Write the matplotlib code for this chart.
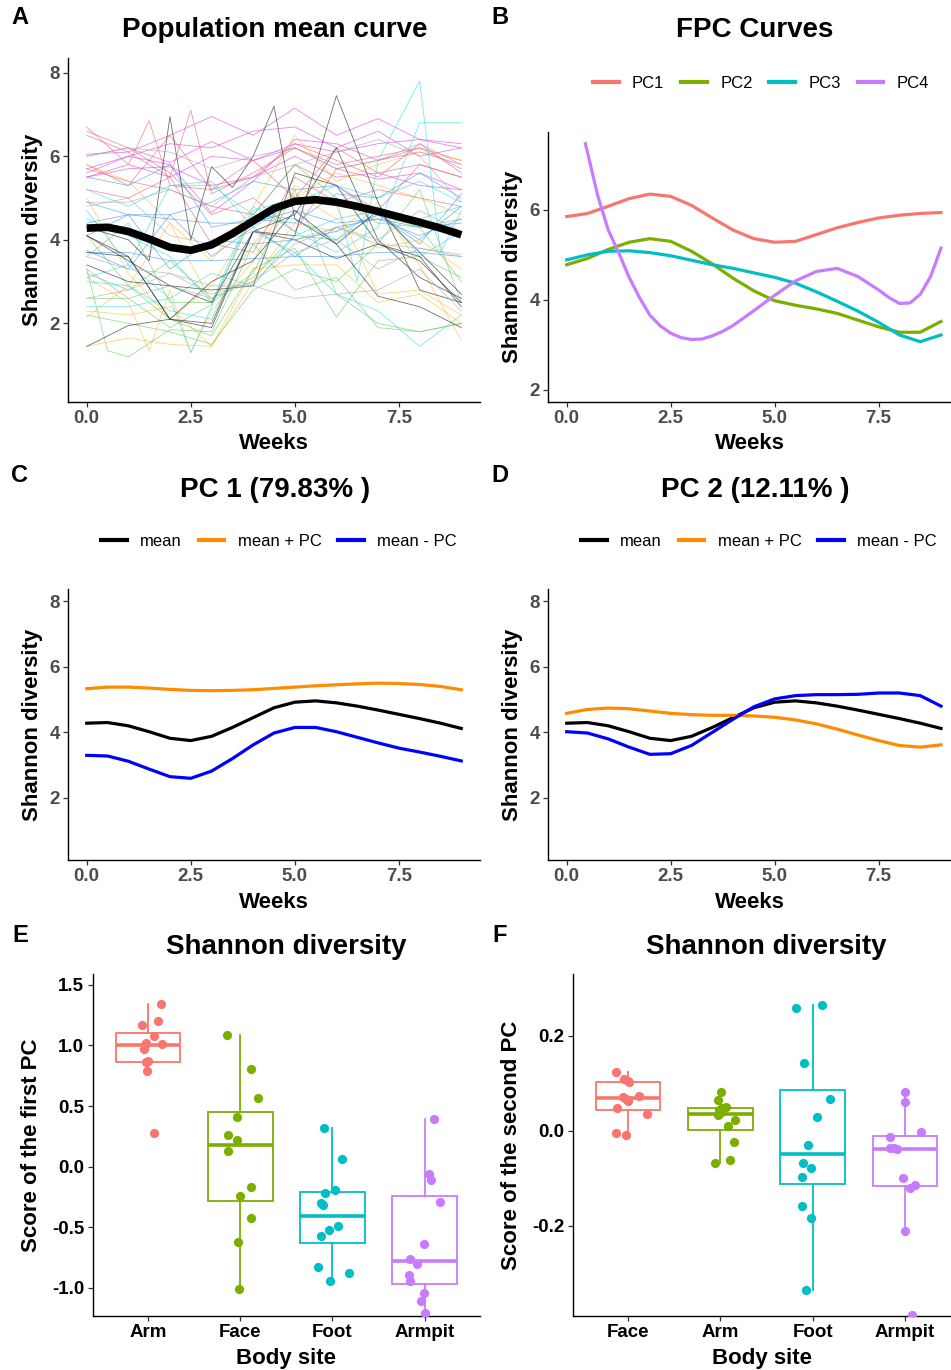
import matplotlib
matplotlib.use("Agg")
import matplotlib.pyplot as plt
from matplotlib.lines import Line2D

plt.rcParams['font.family'] = ['Liberation Sans', 'DejaVu Sans']
plt.rcParams['axes.unicode_minus'] = False
plt.rcParams['lines.solid_joinstyle'] = 'round'

W, H = 951, 1370

# ---------------- data ----------------
weeks_grid = [0.0, 0.5, 1.0, 1.5, 2.0, 2.5, 3.0, 3.5, 4.0, 4.5,
              5.0, 5.5, 6.0, 6.5, 7.0, 7.5, 8.0, 8.5, 9.0]

mean_curve = [4.28, 4.30, 4.20, 4.02, 3.82, 3.75, 3.88, 4.15, 4.45, 4.75,
              4.92, 4.96, 4.90, 4.80, 4.68, 4.55, 4.42, 4.28, 4.12]

# FPC curves (panel B)
pc1_curve = [5.85, 5.92, 6.08, 6.25, 6.35, 6.30, 6.10, 5.82, 5.55, 5.36,
             5.28, 5.30, 5.45, 5.60, 5.72, 5.82, 5.88, 5.92, 5.94]
pc2_curve = [4.78, 4.92, 5.12, 5.28, 5.36, 5.30, 5.08, 4.80, 4.48, 4.20,
             3.98, 3.88, 3.80, 3.70, 3.55, 3.40, 3.28, 3.28, 3.52]
pc3_curve = [4.89, 5.00, 5.08, 5.09, 5.05, 4.98, 4.88, 4.78, 4.70, 4.60,
             4.50, 4.37, 4.18, 3.97, 3.75, 3.50, 3.22, 3.07, 3.22]
pc4_weeks = [0.45, 0.75, 1.0, 1.25, 1.5, 1.75, 2.0, 2.25, 2.5, 2.75, 3.0, 3.25,
             3.5, 3.75, 4.0, 4.5, 5.0, 5.5, 6.0, 6.5, 7.0, 7.5, 7.75, 8.0,
             8.25, 8.5, 8.75, 9.0]
pc4_curve = [7.47, 6.30, 5.55, 5.05, 4.50, 4.05, 3.66, 3.42, 3.26, 3.16, 3.12, 3.13,
             3.20, 3.30, 3.43, 3.76, 4.10, 4.42, 4.63, 4.70, 4.52, 4.22, 4.05, 3.92,
             3.93, 4.12, 4.52, 5.15]

# mean +/- PC curves (panels C, D)
pc1_plus = [5.33, 5.38, 5.38, 5.35, 5.31, 5.28, 5.27, 5.28, 5.30, 5.34,
            5.38, 5.42, 5.45, 5.48, 5.50, 5.49, 5.46, 5.40, 5.30]
pc1_minus = [3.30, 3.28, 3.12, 2.88, 2.65, 2.60, 2.82, 3.20, 3.62, 3.98,
             4.15, 4.15, 4.02, 3.85, 3.68, 3.52, 3.40, 3.27, 3.13]
pc2_plus = [4.58, 4.70, 4.74, 4.72, 4.65, 4.58, 4.54, 4.52, 4.52, 4.50,
            4.46, 4.38, 4.26, 4.10, 3.92, 3.75, 3.60, 3.55, 3.62]
pc2_minus = [4.02, 3.98, 3.80, 3.55, 3.33, 3.35, 3.60, 4.00, 4.40, 4.78,
             5.02, 5.12, 5.15, 5.15, 5.16, 5.20, 5.20, 5.12, 4.80]

# individual subject trajectories (panel A)
wk = [0, 1, 2, 3, 4, 5, 6, 7, 8, 9]
subject_weeks = [
    wk, wk, wk, wk, wk, wk,
    [0, 1, 1.5, 2, 3, 4, 5, 6, 7, 8, 9], [0, 1, 2, 2.5, 3, 4, 5, 6, 7, 8, 9], wk, wk, wk, wk,
    wk, wk, wk, wk, wk, [0, 1, 1.5, 2, 2.5, 3, 4, 5, 6, 7, 8, 9],
    [0, 0.5, 1, 2, 3, 4, 5, 6, 7, 8, 9], wk, wk, wk, wk, wk,
    wk, wk, [0, 1, 2, 2.5, 3, 4, 5, 6, 6.5, 7, 8, 8.5, 9], wk, wk, wk,
    wk, wk, wk, wk, wk, wk,
    [0, 1, 1.5, 2, 2.5, 3, 3.5, 4, 4.5, 5, 6, 7, 8, 9], wk, wk, wk, wk, wk,
    wk, wk, wk, wk, wk, wk,
]
subject_shannon = [
    # magenta
    [6.05, 6.10, 6.50, 6.95, 6.50, 7.15, 6.50, 6.90, 6.40, 6.30],
    [5.60, 6.00, 6.30, 6.20, 6.60, 6.70, 6.20, 6.60, 6.00, 6.20],
    [5.50, 5.80, 5.50, 6.00, 5.90, 6.30, 6.10, 6.30, 6.40, 6.20],
    [5.70, 6.00, 5.80, 4.65, 5.40, 6.40, 6.30, 5.90, 6.10, 5.80],
    [5.50, 5.70, 5.75, 5.30, 5.50, 6.00, 5.50, 5.60, 5.30, 5.20],
    [6.00, 6.20, 5.85, 6.35, 5.90, 6.20, 5.70, 5.45, 5.60, 5.20],
    # red
    [6.70, 5.80, 6.85, 5.30, 5.20, 5.50, 6.30, 5.90, 5.50, 6.30, 5.60],
    [6.50, 6.10, 5.50, 7.10, 5.10, 5.60, 6.20, 5.80, 6.00, 6.20, 5.70],
    [5.80, 5.30, 6.50, 5.20, 5.90, 5.00, 6.20, 5.60, 5.80, 5.50],
    [6.60, 6.20, 5.60, 4.60, 5.00, 4.20, 5.70, 5.90, 6.20, 5.90],
    [5.70, 5.40, 5.20, 4.80, 4.60, 5.80, 5.30, 4.70, 5.80, 5.50],
    [5.20, 5.00, 5.50, 3.90, 3.70, 5.50, 4.90, 5.20, 5.00, 4.80],
    # orange
    [5.80, 5.40, 4.40, 3.50, 4.80, 6.50, 5.40, 5.80, 6.10, 5.90],
    [5.00, 3.20, 2.10, 2.90, 4.50, 5.00, 5.60, 5.30, 5.00, 4.60],
    [2.30, 2.20, 2.40, 1.45, 3.30, 3.40, 3.40, 2.50, 2.70, 2.00],
    [1.45, 1.65, 1.50, 1.45, 3.00, 4.40, 4.20, 4.90, 3.40, 1.60],
    [2.15, 2.90, 4.40, 2.50, 3.90, 5.10, 4.50, 3.80, 4.00, 3.30],
    [3.10, 2.50, 1.35, 2.80, 1.30, 2.30, 3.50, 5.30, 4.80, 2.70, 2.80, 2.20],
    # green
    [3.30, 1.35, 1.20, 1.85, 1.80, 3.90, 2.80, 3.10, 1.90, 1.80, 2.00],
    [2.60, 2.60, 1.90, 2.45, 4.60, 5.80, 5.00, 4.40, 4.30, 3.00],
    [4.10, 2.90, 2.10, 1.70, 3.30, 3.80, 2.15, 3.50, 3.60, 3.10],
    [3.60, 4.40, 2.50, 2.50, 3.20, 5.20, 2.70, 2.00, 1.80, 2.00],
    [2.20, 2.00, 1.80, 1.50, 2.80, 3.30, 3.00, 3.90, 5.20, 2.50],
    [3.20, 2.80, 3.50, 2.60, 3.10, 4.10, 4.00, 4.60, 4.30, 4.50],
    # cyan
    [5.20, 4.80, 5.30, 5.30, 4.60, 4.50, 4.00, 4.80, 3.60, 4.20],
    [3.00, 2.90, 2.30, 2.10, 4.20, 3.70, 2.70, 2.30, 1.45, 2.20],
    [4.70, 3.40, 2.60, 1.30, 2.40, 4.70, 5.00, 5.00, 3.00, 5.90, 7.80, 3.70, 4.70],
    [4.50, 4.10, 3.60, 2.50, 4.80, 4.20, 3.70, 4.30, 6.80, 6.80],
    [2.40, 2.40, 2.60, 3.20, 2.90, 4.10, 4.50, 4.70, 4.50, 4.80],
    [3.10, 3.40, 5.30, 5.40, 4.30, 4.90, 5.30, 5.00, 5.40, 4.90],
    # blue
    [5.50, 5.30, 5.80, 4.30, 4.50, 4.40, 5.10, 5.00, 5.60, 5.00],
    [4.90, 4.60, 4.60, 4.90, 5.40, 5.20, 5.30, 4.60, 4.00, 4.80],
    [3.70, 3.70, 3.50, 3.50, 3.55, 3.60, 3.60, 3.70, 3.70, 3.60],
    [4.40, 4.60, 4.50, 4.40, 4.40, 4.70, 4.40, 4.50, 4.30, 4.40],
    [3.75, 3.30, 4.60, 3.60, 4.30, 3.60, 4.30, 4.50, 4.10, 4.50],
    [4.10, 4.60, 3.30, 4.00, 3.90, 4.00, 4.20, 4.60, 3.90, 5.10],
    # black
    [4.30, 4.00, 3.50, 6.95, 4.00, 5.75, 5.25, 6.00, 7.20, 4.50, 3.90, 4.70, 3.70, 2.70],
    [4.10, 3.60, 2.10, 2.00, 4.20, 4.10, 7.45, 4.90, 2.80, 2.50],
    [3.40, 3.00, 2.90, 2.50, 4.20, 4.00, 3.55, 3.90, 3.60, 2.40],
    [1.45, 1.95, 2.10, 3.00, 3.50, 4.70, 3.90, 2.65, 2.40, 1.90],
    [3.70, 3.60, 2.10, 1.90, 4.20, 4.60, 6.20, 4.00, 3.10, 2.60],
    [4.10, 3.50, 2.90, 2.80, 2.90, 5.60, 5.30, 3.90, 3.50, 2.50],
    # gray
    [4.90, 4.90, 5.20, 4.80, 5.50, 5.80, 6.10, 6.40, 6.00, 4.90],
    [6.00, 6.20, 6.10, 5.70, 6.00, 6.20, 5.70, 5.90, 6.30, 5.80],
    [2.60, 2.80, 3.20, 2.90, 2.90, 2.60, 2.70, 2.80, 3.30, 2.30],
    [3.60, 3.30, 3.20, 2.70, 3.00, 3.70, 4.00, 3.30, 3.80, 3.60],
    [4.80, 5.00, 4.10, 3.90, 4.20, 4.00, 4.30, 3.90, 3.80, 3.65],
    [3.30, 2.60, 2.90, 2.60, 3.00, 3.90, 4.30, 4.00, 4.70, 4.20],
]
subject_palette = ['#DD44DD', '#E8607A', '#FFBE2E', '#66CC66',
                   '#33DDE0', '#4499EE', '#222222', '#AAAAAA']

# PC scores by body site (panels E, F)
e_sites = ['Arm', 'Face', 'Foot', 'Armpit']
e_scores = [
    [1.34, 1.205, 1.17, 1.08, 1.01, 1.023, 0.97, 1.0, 0.87, 0.86, 0.79, 0.28],
    [1.09, 0.81, 0.57, 0.41, 0.26, 0.22, 0.13, -0.17, -0.24, -0.42, -0.62, -1.01],
    [0.32, 0.063, -0.19, -0.22, -0.30, -0.32, -0.49, -0.52, -0.57, -0.825, -0.875, -0.94],
    [0.39, -0.063, -0.11, -0.29, -0.64, -0.76, -0.80, -0.89, -0.94, -1.04, -1.11, -1.21],
]
e_jitter = [
    [0.145, 0.105, -0.07, 0.07, 0.15, -0.02, -0.04, -0.03, 0.0, -0.02, -0.01, 0.06],
    [-0.14, 0.12, 0.19, -0.03, -0.13, -0.03, -0.13, 0.12, 0.0, 0.12, -0.02, -0.01],
    [-0.09, 0.10, 0.03, -0.08, -0.12, -0.10, 0.06, -0.04, -0.12, -0.16, 0.18, -0.03],
    [0.10, 0.05, 0.07, 0.17, -0.01, -0.16, -0.08, -0.17, -0.16, -0.01, -0.04, 0.0],
]
f_sites = ['Face', 'Arm', 'Foot', 'Armpit']
f_scores = [
    [0.124, 0.110, 0.103, 0.105, 0.068, 0.074, 0.072, 0.062, 0.047, 0.035, -0.004, -0.009],
    [0.081, 0.065, 0.051, 0.048, 0.044, 0.038, 0.034, 0.023, 0.010, -0.023, -0.062, -0.067],
    [0.265, 0.258, 0.143, 0.068, 0.030, -0.029, -0.067, -0.079, -0.097, -0.158, -0.183, -0.335],
    [0.081, 0.061, -0.003, -0.014, -0.036, -0.036, -0.039, -0.099, -0.114, -0.12, -0.21, -0.388],
]
f_jitter = [
    [-0.13, -0.04, 0.01, 0.0, -0.02, 0.12, -0.05, 0.0, -0.12, 0.20, -0.13, -0.02],
    [0.01, -0.03, 0.06, 0.02, -0.01, 0.0, -0.03, 0.16, 0.08, 0.15, 0.11, -0.06],
    [0.10, -0.18, -0.09, 0.19, 0.05, -0.05, -0.10, -0.02, -0.11, -0.12, -0.02, -0.07],
    [0.0, 0.0, 0.18, -0.16, -0.16, -0.12, -0.08, -0.02, 0.11, 0.06, 0.0, 0.08],
]
hue4 = ['#F8766D', '#7CAE00', '#00BFC4', '#C77CFF']


def px_rect(left, top, right, bottom):
    return [left / W, 1 - bottom / H, (right - left) / W, (bottom - top) / H]


def style_axes(ax, tick_color='#4D4D4D'):
    for side in ['top', 'right']:
        ax.spines[side].set_visible(False)
    for side in ['left', 'bottom']:
        ax.spines[side].set_linewidth(1.0)
        ax.spines[side].set_color('black')
    ax.tick_params(length=3.5, width=0.9, color='#333333', pad=2.5,
                   labelsize=13.5, labelcolor=tick_color)
    for lab in ax.get_xticklabels() + ax.get_yticklabels():
        lab.set_fontweight('bold')


def set_labels(ax, xlabel, ylabel, xpos, ypos):
    ax.set_xlabel(xlabel, fontsize=16, fontweight='bold', va='center')
    ax.set_ylabel(ylabel, fontsize=16, fontweight='bold', va='center', ha='center')
    ax.xaxis.set_label_coords(0.5, xpos)
    ax.yaxis.set_label_coords(ypos, 0.5)


def title_at(x, y, txt):
    fig.text(x / W, 1 - y / H, txt, ha='center', va='center', fontsize=20, fontweight='bold')


def letter_at(x, y, txt):
    fig.text(x / W, 1 - y / H, txt, ha='center', va='center', fontsize=17, fontweight='bold')


def week_axis(ax, right_limit):
    ax.set_xlim(-0.45, right_limit)
    ax.set_xticks([0, 2.5, 5, 7.5])
    ax.set_xticklabels(['0.0', '2.5', '5.0', '7.5'])


def legend_at(ax, handles, labels, x, y):
    ax.legend(handles, labels, loc='center', bbox_to_anchor=(x / W, 1 - y / H),
              bbox_transform=fig.transFigure, ncol=len(labels), frameon=False,
              fontsize=12, handlelength=1.55, handletextpad=0.8, columnspacing=1.0)


def box_panel(ax, scores, jitter, sites, xlim_right):
    for i, vals in enumerate(scores):
        pos = i + 1
        col = hue4[i]
        ax.boxplot(vals, positions=[pos], widths=0.7, whis=1.5, showcaps=False,
                   showfliers=False, patch_artist=True,
                   boxprops=dict(facecolor='white', edgecolor=col, linewidth=1.3),
                   whiskerprops=dict(color=col, linewidth=1.3),
                   medianprops=dict(color=col, linewidth=2.6))
        xs = [pos + j for j in jitter[i]]
        ax.scatter(xs, vals, s=44, color=col, zorder=3, linewidths=0)
    ax.set_xlim(0.4, xlim_right)
    ax.set_xticks([1, 2, 3, 4])
    ax.set_xticklabels(sites)


fig = plt.figure(figsize=(W / 100, H / 100), dpi=100)

# ---------------- A ----------------
axA = fig.add_axes(px_rect(68, 58, 480, 402))
for k, (ws, vs) in enumerate(zip(subject_weeks, subject_shannon)):
    axA.plot(ws, vs, color=subject_palette[k // 6], lw=0.6, alpha=0.65)
axA.plot(weeks_grid, mean_curve, color='black', lw=5.5, solid_capstyle='butt')
week_axis(axA, 9.45)
axA.set_ylim(0.12, 8.35)
axA.set_yticks([2, 4, 6, 8])
style_axes(axA)
set_labels(axA, 'Weeks', 'Shannon diversity', -0.122, -0.087)
title_at(275, 30, 'Population mean curve')
letter_at(20, 18, 'A')

# ---------------- B ----------------
axB = fig.add_axes(px_rect(548, 132, 951, 402))
hB = []
for xs, ys, col in [(weeks_grid, pc1_curve, hue4[0]), (weeks_grid, pc2_curve, hue4[1]),
                    (weeks_grid, pc3_curve, hue4[2]), (pc4_weeks, pc4_curve, hue4[3])]:
    axB.plot(xs, ys, color=col, lw=2.3)
    hB.append(Line2D([], [], color=col, lw=3))
week_axis(axB, 9.24)
axB.set_ylim(1.73, 7.73)
axB.set_yticks([2, 4, 6])
style_axes(axB)
set_labels(axB, 'Weeks', 'Shannon diversity', -0.155, -0.089)
legend_at(axB, hB, ['PC1', 'PC2', 'PC3', 'PC4'], 761, 83)
title_at(755, 30, 'FPC Curves')
letter_at(500, 18, 'B')

# ---------------- C & D ----------------
for rect, plus, minus, ttl, letter, cx, right in [
        ((68, 589, 480, 860), pc1_plus, pc1_minus, 'PC 1 (79.83% )', 'C', 0, 9.45),
        ((548, 589, 951, 860), pc2_plus, pc2_minus, 'PC 2 (12.11% )', 'D', 480, 9.24)]:
    ax = fig.add_axes(px_rect(*rect))
    ax.plot(weeks_grid, mean_curve, color='black', lw=2.3)
    ax.plot(weeks_grid, plus, color='#FF8C00', lw=2.3)
    ax.plot(weeks_grid, minus, color='#0000FF', lw=2.3)
    week_axis(ax, right)
    ax.set_ylim(0.11, 8.37)
    ax.set_yticks([2, 4, 6, 8])
    style_axes(ax)
    ypos = -0.087 if cx == 0 else -0.089
    set_labels(ax, 'Weeks', 'Shannon diversity', -0.155, ypos)
    hs = [Line2D([], [], color=c, lw=3) for c in ['black', '#FF8C00', '#0000FF']]
    legend_at(ax, hs, ['mean', 'mean + PC', 'mean - PC'], cx + 279, 541)
    title_at(cx + 275, 490, ttl)
    letter_at(cx + 20, 476, letter)

# ---------------- E ----------------
axE = fig.add_axes(px_rect(92.7, 974, 480, 1315.7))
box_panel(axE, e_scores, e_jitter, e_sites, 4.6)
axE.set_ylim(-1.23, 1.59)
axE.set_yticks([-1.0, -0.5, 0.0, 0.5, 1.0, 1.5])
axE.set_yticklabels(['-1.0', '-0.5', '0.0', '0.5', '1.0', '1.5'])
style_axes(axE, tick_color='black')
set_labels(axE, 'Body site', 'Score of the first PC', -0.124, -0.159)
title_at(286, 947, 'Shannon diversity')
letter_at(20, 935, 'E')

# ---------------- F ----------------
axF = fig.add_axes(px_rect(572.7, 974, 951, 1315.7))
box_panel(axF, f_scores, f_jitter, f_sites, 4.5)
axF.set_ylim(-0.389, 0.33)
axF.set_yticks([-0.2, 0.0, 0.2])
axF.set_yticklabels(['-0.2', '0.0', '0.2'])
style_axes(axF, tick_color='black')
set_labels(axF, 'Body site', 'Score of the second PC', -0.124, -0.163)
title_at(766, 947, 'Shannon diversity')
letter_at(500, 935, 'F')

fig.savefig('out.png', dpi=100)
